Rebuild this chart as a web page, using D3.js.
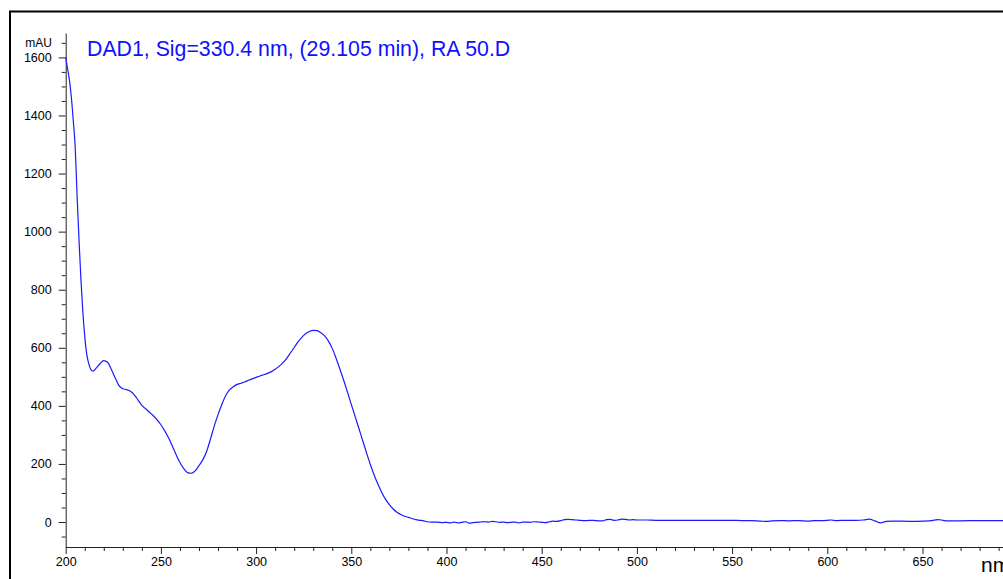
<!DOCTYPE html>
<html>
<head>
<meta charset="utf-8">
<script src="https://cdn.jsdelivr.net/npm/d3@7"></script>
<style>
  html, body { margin: 0; padding: 0; background: #fff; }
  svg { display: block; font-family: "Liberation Sans", Arial, sans-serif; }
</style>
</head>
<body>
<svg id="chart" width="1003" height="579"></svg>
<script>
// ---- data ----
const titleText = "DAD1, Sig=330.4 nm, (29.105 min), RA 50.D";
const yUnit = "mAU";
const xUnit = "nm";
const yMajorTicks = [0, 200, 400, 600, 800, 1000, 1200, 1400, 1600];
const xMajorTicks = [200, 250, 300, 350, 400, 450, 500, 550, 600, 650];

const wavelength = [
  200,201,202,203,204,205,206,207,208,209,210,211,212,213,214,215,216,218,220,222,
  224,226,228,230,232,234,236,238,240,242,244,246,248,250,252,254,256,258,260,262,
  264,266,268,270,272,274,276,278,280,282,284,286,288,290,292,294,296,298,300,302,
  304,306,308,310,312,314,316,318,320,322,324,326,328,330,332,334,336,338,340,342,
  344,346,348,350,352,354,356,358,360,362,364,366,368,370,372,374,376,378,380,382,
  384,386,388,390,392,395,398,400,402,404,406,408,410,412,414,416,418,420,422,424,
  426,428,430,432,434,436,438,440,442,444,446,448,450,452,454,456,458,460,462,464,
  466,468,470,472,474,476,478,480,482,484,486,488,490,492,494,496,498,500,505,510,
  520,530,540,550,555,560,565,568,571,575,580,585,590,593,596,600,602,605,610,615,
  619,622,625,628,631,635,640,645,650,655,658,660,662,665,670,680,690,700
];
const absorbance = [
  1600,1560,1520,1460,1380,1290,1120,970,835,725,640,580,548,528,520,522,530,545,556,550,
  525,496,470,459,456,450,438,420,402,390,378,366,352,335,314,290,262,232,205,184,
  170,168,176,194,214,243,285,330,370,405,435,455,466,474,478,482,488,493,498,503,
  507,512,518,526,536,548,563,582,601,620,636,648,656,660,659,652,641,623,598,564,
  527,488,447,405,364,322,280,238,198,162,130,102,78,60,45,34,26,20,16,12,
  8,6,4,1,0,0,-2,-1,-3,0,-3,-1,1,-4,-2,-1,0,1,0,2,
  1,-1,0,-2,-1,0,-3,0,0,-1,1,0,-1,-2,1,3,2,5,8,9,
  8,7,6,5,5,6,5,4,4,8,9,6,7,10,9,7,8,7,7,6,
  6,6,6,6,5,5,3,2,4,5,4,5,3,5,5,6,7,5,6,6,
  7,10,4,-3,2,3,3,2,3,5,8,7,4,4,4,5,5,5
];

// ---- layout ----
const svg = d3.select("#chart");
const x = d3.scaleLinear().domain([200, 700]).range([65.7, 1017.7]);
const y = d3.scaleLinear().domain([-86, 1684]).range([547, 33]);

// outer frame
svg.append("rect")
  .attr("x", 10).attr("y", 11.5)
  .attr("width", 1200).attr("height", 800)
  .attr("fill", "none").attr("stroke", "#000").attr("stroke-width", 2);

// y axis minor ticks
const yMinor = d3.range(-50, 1651, 50).filter(v => !yMajorTicks.includes(v));
svg.append("g").attr("transform", "translate(65.7,0)")
  .call(d3.axisLeft(y).tickValues(yMinor).tickSize(4).tickSizeOuter(0).tickFormat(""))
  .call(g => g.select(".domain").remove())
  .call(g => g.selectAll("line").attr("stroke", "#222"));
// y axis major
svg.append("g").attr("transform", "translate(65.7,0)")
  .call(d3.axisLeft(y).tickValues(yMajorTicks).tickSize(7).tickSizeOuter(0).tickPadding(7).tickFormat(d3.format("d")))
  .call(g => g.select(".domain").attr("stroke", "#222"))
  .call(g => g.selectAll("line").attr("stroke", "#222"))
  .call(g => g.selectAll("text").attr("font-size", "12.5px").attr("fill", "#000")
      .attr("font-family", "'Liberation Sans', Arial, sans-serif"));

// x axis minor
const xMinor = d3.range(200, 701, 10).filter(v => !xMajorTicks.includes(v));
svg.append("g").attr("transform", "translate(0,547)")
  .call(d3.axisBottom(x).tickValues(xMinor).tickSize(4).tickSizeOuter(0).tickFormat(""))
  .call(g => g.select(".domain").remove())
  .call(g => g.selectAll("line").attr("stroke", "#222"));
// x axis major
svg.append("g").attr("transform", "translate(0,547)")
  .call(d3.axisBottom(x).tickValues(xMajorTicks).tickSize(7).tickSizeOuter(0).tickPadding(3).tickFormat(d3.format("d")))
  .call(g => g.select(".domain").attr("stroke", "#222"))
  .call(g => g.selectAll("line").attr("stroke", "#222"))
  .call(g => g.selectAll("text").attr("font-size", "12.5px").attr("fill", "#000")
      .attr("font-family", "'Liberation Sans', Arial, sans-serif"));

// unit labels
svg.append("text").attr("x", 52).attr("y", 46.5).attr("text-anchor", "end")
  .attr("font-size", "12px").attr("fill", "#000").text(yUnit);
svg.append("text").attr("x", 981).attr("y", 572)
  .attr("font-size", "21px").attr("fill", "#000").text(xUnit);

// title
svg.append("text").attr("x", 87).attr("y", 56)
  .attr("font-size", "21.3px").attr("fill", "#1010ff").text(titleText);

// spectrum line
const pts = wavelength.map((w, i) => [w, absorbance[i]]);
svg.append("path")
  .datum(pts)
  .attr("fill", "none")
  .attr("stroke", "#1a1aff")
  .attr("stroke-width", 1.2)
  .attr("d", d3.line().x(d => x(d[0])).y(d => y(d[1])).curve(d3.curveMonotoneX));
</script>
</body>
</html>
